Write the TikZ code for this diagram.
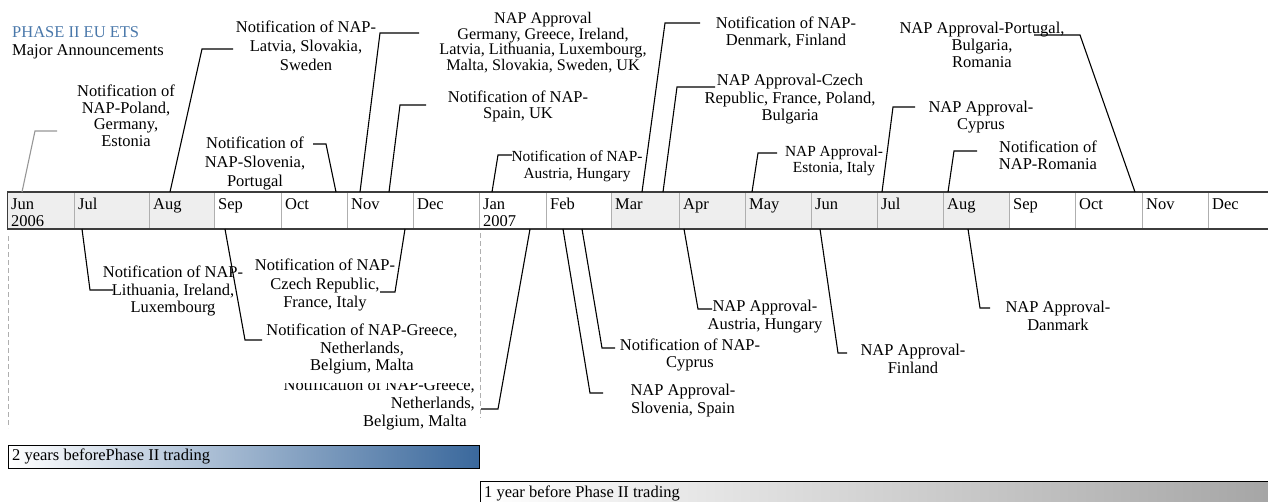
\documentclass[tikz,border=0pt]{standalone}
\usepackage{fontspec}
\setmainfont{Liberation Serif}
\definecolor{phaseblue}{RGB}{74,120,170}
\definecolor{cellgray}{RGB}{238,238,238}
\definecolor{bardark}{RGB}{60,60,60}
\definecolor{sepgray}{RGB}{175,175,175}
\definecolor{gradblue}{RGB}{58,104,156}
\definecolor{gradgray}{RGB}{165,165,165}
\definecolor{connlight}{RGB}{150,150,150}
\tikzset{
  lbl/.style={font=\fontsize{16.5}{17.5}\selectfont, align=center, inner sep=0pt, anchor=north},
  monthlbl/.style={font=\fontsize{16.5}{17}\selectfont, align=left, inner sep=0pt, anchor=north west},
  conn/.style={draw=black, line width=1.1pt},
  connpale/.style={draw=connlight, line width=1.1pt},
  shadecell/.style={fill=cellgray, draw=sepgray, line width=0.6pt},
  plaincell/.style={fill=white, draw=sepgray, line width=0.6pt},
  guide/.style={draw=sepgray, line width=0.8pt, dash pattern=on 5pt off 3pt},
  phasebox/.style={draw=black, line width=0.9pt, inner sep=0pt, anchor=north west}
}
\begin{document}
\begin{tikzpicture}[x=1pt,y=-1pt]
\useasboundingbox (0,0) rectangle (1268,501);

% ---------- title ----------
\node[monthlbl, font=\fontsize{16.5}{18.5}\selectfont] (title) at (12,26)
  {\textcolor{phaseblue}{PHASE II EU ETS}\\Major Announcements};

% ---------- month bar ----------
\foreach \xa/\xb/\st/\nm [count=\i] in {
  7/74/shadecell/{Jun\\2006}, 74/149/shadecell/Jul, 149/214/shadecell/Aug,
  214/281/plaincell/Sep, 281/347/plaincell/Oct, 347/413/plaincell/Nov,
  413/479/plaincell/Dec, 479/546/plaincell/{Jan\\2007}, 546/611/plaincell/Feb,
  611/679/shadecell/Mar, 679/745/shadecell/Apr, 745/811/shadecell/May,
  811/877/shadecell/Jun, 877/943/shadecell/Jul, 943/1009/shadecell/Aug,
  1009/1075/plaincell/Sep, 1075/1142/plaincell/Oct, 1142/1208/plaincell/Nov,
  1208/1272/plaincell/Dec}{
  \path[\st] (\xa,192) rectangle (\xb,229);
  \node[monthlbl] (m\i) at (\xa+4,198) {\nm};
}
\draw[draw=bardark, line width=2pt] (7,192) -- (1272,192);
\draw[draw=bardark, line width=2pt] (7,229) -- (1272,229);
\draw[draw=bardark, line width=0.8pt] (7,192) -- (7,229);

% ---------- dashed guides ----------
\coordinate (g1a) at (8,236); \coordinate (g1b) at (8,428);
\coordinate (g2a) at (480,233); \coordinate (g2b) at (480,418);
\draw[guide] (g1a) -- (g1b);
\draw[guide] (g2a) -- (g2b);

% ---------- labels above the bar ----------
\node[lbl, font=\fontsize{16.5}{16.5}\selectfont] (t1) at (126,85) {Notification of\\NAP-Poland,\\Germany,\\Estonia};
\node[lbl, font=\fontsize{16.5}{19}\selectfont] (t2) at (306,21) {Notification of NAP-\\Latvia, Slovakia,\\Sweden};
\node[lbl, font=\fontsize{16.5}{19}\selectfont] (t3) at (255,137) {Notification of\\NAP-Slovenia,\\Portugal};
\node[lbl, font=\fontsize{16.2}{15.7}\selectfont] (t4) at (543,12) {NAP Approval\\Germany, Greece, Ireland,\\Latvia, Lithuania, Luxembourg,\\Malta, Slovakia, Sweden, UK};
\node[lbl, font=\fontsize{16.5}{16}\selectfont] (t5) at (518,91) {Notification of NAP-\\Spain, UK};
\node[lbl, font=\fontsize{15.4}{17}\selectfont] (t6) at (577,150) {Notification of NAP-\\Austria, Hungary};
\node[lbl, font=\fontsize{16.5}{16.5}\selectfont] (t7) at (786,17) {Notification of NAP-\\Denmark, Finland};
\node[lbl] (t8) at (790,74) {NAP Approval-Czech\\Republic, France, Poland,\\Bulgaria};
\node[lbl, font=\fontsize{15.4}{16}\selectfont] (t9) at (834,146) {NAP Approval-\\Estonia, Italy};
\node[lbl, font=\fontsize{16.5}{17}\selectfont] (t10) at (981,101) {NAP Approval-\\Cyprus};
\node[lbl, font=\fontsize{16.5}{17}\selectfont] (t11) at (1048,141) {Notification of\\NAP-Romania};
\node[lbl, font=\fontsize{16.5}{17}\selectfont] (t12) at (982,22) {NAP Approval-Portugal,\\Bulgaria,\\Romania};

% ---------- labels below the bar ----------
\node[lbl] (b1) at (173,266) {Notification of NAP-\\Lithuania, Ireland,\\Luxembourg};
\node[lbl, font=\fontsize{16.5}{18.5}\selectfont] (b2) at (325,259) {Notification of NAP-\\Czech Republic,\\France, Italy};
\node[lbl, font=\fontsize{16.5}{18}\selectfont, align=right, anchor=north east] (b4) at (475,379)
  {Notification of NAP-Greece,\\Netherlands,\hspace*{37pt}\\Belgium, Malta\hspace*{8pt}};
\node[lbl] (b3) at (362,324) {Notification of NAP-Greece,\\Netherlands,\\Belgium, Malta};
\fill[white] ([xshift=14pt]b3.south west) rectangle ([xshift=14pt,yshift=-8pt]b3.south east);
\node[lbl, font=\fontsize{16.5}{18}\selectfont] (b5) at (683,384) {NAP Approval-\\Slovenia, Spain};
\node[lbl, font=\fontsize{16.5}{16.5}\selectfont] (b6) at (690,339) {Notification of NAP-\\Cyprus};
\node[lbl, font=\fontsize{16.5}{18}\selectfont] (b7) at (765,300) {NAP Approval-\\Austria, Hungary};
\node[lbl, font=\fontsize{16.5}{18}\selectfont] (b8) at (913,344) {NAP Approval-\\Finland};
\node[lbl, font=\fontsize{16.5}{18}\selectfont] (b9) at (1058,301) {NAP Approval-\\Danmark};

% ---------- connectors above ----------
\foreach \n/\bx/\cx/\cy/\ex/\st in {
  1/22/35/131/57/connpale, 2/170/202/49/233/conn, 3/336/326/144/313/conn,
  4/360/380/33/419/conn, 5/389/400/105/426/conn, 6/492/498/155/512/conn,
  7/642/665/23/700/conn, 8/663/677/87/715/conn, 9/752/758/153/777/conn,
  10/882/893/107/915/conn, 11/948/954/151/977/conn, 12/1135/1080/35/1034/conn}{
  \coordinate (ua\n) at (\bx,192);
  \coordinate (uc\n) at (\cx,\cy);
  \coordinate (ue\n) at (\ex,\cy);
  \draw[\st] (ua\n) -- (uc\n) -- (ue\n);
}

% ---------- connectors below ----------
\foreach \n/\bx/\cx/\cy/\ex in {
  1/82/90/290/113, 2/405/395/292/380, 3/225/245/340/262,
  4/530/498/409/481, 5/563/590/393/603, 6/582/602/348/615,
  7/684/698/309/712, 8/820/838/353/847, 9/968/980/308/990}{
  \coordinate (da\n) at (\bx,229);
  \coordinate (dc\n) at (\cx,\cy);
  \coordinate (de\n) at (\ex,\cy);
  \draw[conn] (da\n) -- (dc\n) -- (de\n);
}

% ---------- phase boxes ----------
\node[phasebox, left color=white, right color=gradblue, minimum width=471pt, minimum height=23pt] (two) at (8,445) {};
\node[font=\fontsize{16.5}{17}\selectfont, inner sep=0pt, anchor=west] (twot) at ([xshift=4pt]two.west) {2 years beforePhase II trading};
\node[phasebox, left color=white, right color=gradgray, minimum width=795pt, minimum height=26pt] (one) at (480,481) {};
\node[font=\fontsize{16.5}{17}\selectfont, inner sep=0pt, anchor=north west] (onet) at ([xshift=4pt,yshift=-5pt]one.north west) {1 year before Phase II trading};
\end{tikzpicture}
\end{document}
